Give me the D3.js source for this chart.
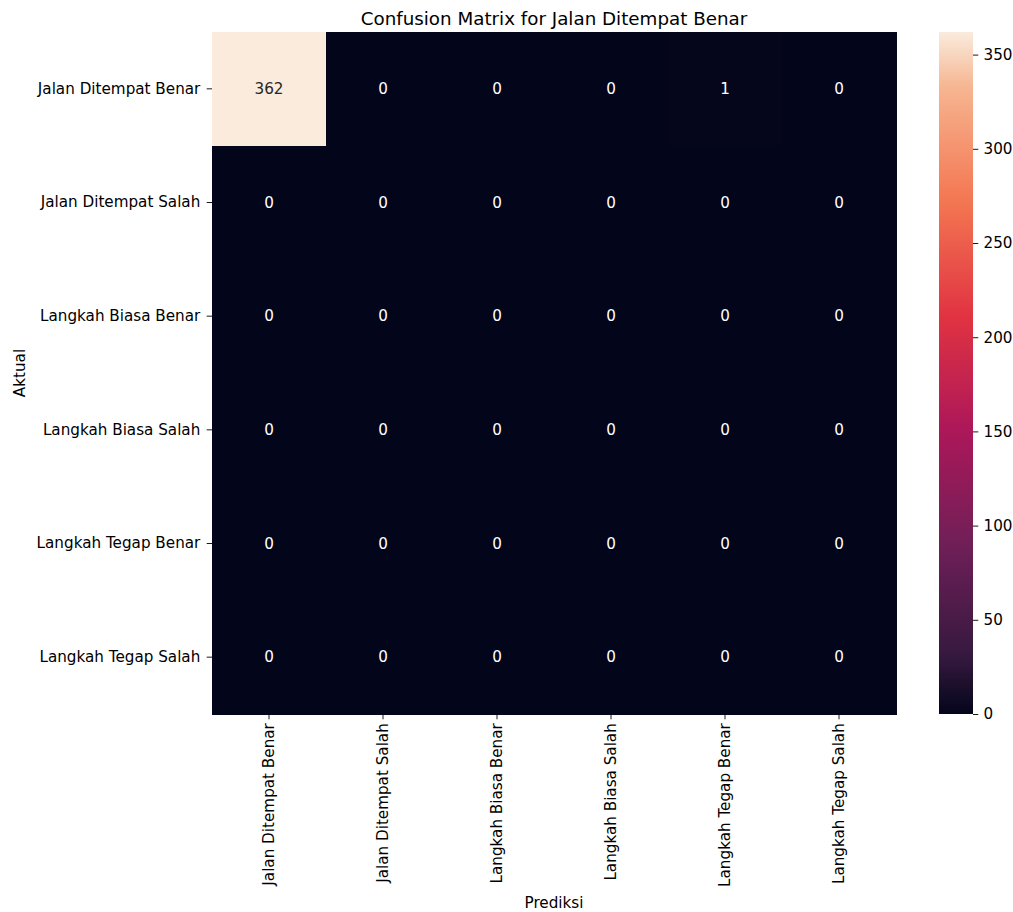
<!DOCTYPE html>
<html><head><meta charset="utf-8">
<script src="https://cdn.jsdelivr.net/npm/d3@7"></script>
<style>body{margin:0;background:#fff;} text{font-family:"DejaVu Sans",sans-serif;}</style>
</head><body>
<svg id="c" width="1013" height="912"></svg>
<script>
const labels = ["Jalan Ditempat Benar","Jalan Ditempat Salah","Langkah Biasa Benar","Langkah Biasa Salah","Langkah Tegap Benar","Langkah Tegap Salah"];
const matrix = [
  [362,0,0,0,1,0],
  [0,0,0,0,0,0],
  [0,0,0,0,0,0],
  [0,0,0,0,0,0],
  [0,0,0,0,0,0],
  [0,0,0,0,0,0]
];
const colorbarTicks = [0,50,100,150,200,250,300,350];
const title = "Confusion Matrix for Jalan Ditempat Benar";
const xTitle = "Prediksi";
const yTitle = "Aktual";
const rocketPos = [0, 1/12, 3/12, 5/12, 7/12, 9/12, 11/12, 1];
const rocketCols = ["#03051a","#35193e","#701f57","#ad1759","#e13342","#f37651","#f6b48f","#faebdd"];

const FS = "15.2px", TFS = "18.3px", TL = 5.3, TP = 3.9;
const svg = d3.select("#c");
const L = 212, R = 896, T = 32, B = 714;
const vmax = d3.max(matrix.flat());
const rocket = d3.scaleLinear().domain(rocketPos).range(rocketCols).interpolate(d3.interpolateRgb);
const color = v => rocket(v / vmax);

const x = d3.scaleBand().domain(labels).range([L, R]);
const y = d3.scaleBand().domain(labels).range([T, B]);

const cells = [];
matrix.forEach((row, i) => row.forEach((v, j) => cells.push({r: labels[i], c: labels[j], v})));

svg.append("g").attr("shape-rendering","crispEdges").selectAll("rect").data(cells).join("rect")
  .attr("x", d => x(d.c)).attr("y", d => y(d.r))
  .attr("width", x.bandwidth() + 1).attr("height", y.bandwidth() + 1)
  .attr("fill", d => color(d.v));
svg.append("g").attr("shape-rendering","crispEdges").selectAll("rect").data(cells.filter(d => d.v > 0)).join("rect")
  .attr("x", d => x(d.c)).attr("y", d => y(d.r))
  .attr("width", x.bandwidth()).attr("height", y.bandwidth())
  .attr("fill", d => color(d.v));

function lum(c){
  const o = d3.rgb(c);
  const f = u => { u/=255; return u <= 0.03928 ? u/12.92 : Math.pow((u+0.055)/1.055, 2.4); };
  return 0.2126*f(o.r)+0.7152*f(o.g)+0.0722*f(o.b);
}
svg.append("g").selectAll("text").data(cells).join("text")
  .attr("x", d => x(d.c) + x.bandwidth()/2).attr("y", d => y(d.r) + y.bandwidth()/2)
  .attr("text-anchor","middle").attr("dominant-baseline","central")
  .attr("font-size", FS)
  .attr("fill", d => lum(color(d.v)) > 0.408 ? "#262626" : "#ffffff")
  .text(d => d.v);

// axes
const xAxis = svg.append("g").attr("transform", `translate(0,${B})`)
  .call(d3.axisBottom(x).tickSize(TL).tickPadding(TP));
xAxis.select(".domain").remove();
xAxis.selectAll("line").attr("stroke","#000").attr("stroke-width",0.9);
xAxis.selectAll("text").attr("font-size",FS).attr("fill","#000")
  .attr("font-family","DejaVu Sans")
  .attr("transform","rotate(-90)").attr("text-anchor","end")
  .attr("x", -(TL+TP)).attr("y", 0).attr("dy","0.35em");

const yAxis = svg.append("g").attr("transform", `translate(${L},0)`)
  .call(d3.axisLeft(y).tickSize(TL).tickPadding(6.4));
yAxis.select(".domain").remove();
yAxis.selectAll("line").attr("stroke","#000").attr("stroke-width",0.9);
yAxis.selectAll("text").attr("font-size",FS).attr("fill","#000").attr("font-family","DejaVu Sans");

// titles
svg.append("text").attr("x", (L+R)/2).attr("y", 25).attr("text-anchor","middle")
  .attr("font-size",TFS).attr("fill","#000").text(title);
svg.append("text").attr("x", (L+R)/2).attr("y", 908).attr("text-anchor","middle")
  .attr("font-size",FS).attr("fill","#000").text(xTitle);
svg.append("text").attr("transform", `translate(25,${(T+B)/2}) rotate(-90)`).attr("text-anchor","middle")
  .attr("font-size",FS).attr("fill","#000").text(yTitle);

// colorbar
const CL = 939, CR = 973;
const cy = d3.scaleLinear().domain([0, vmax]).range([B, T]);
const defs = svg.append("defs");
const grad = defs.append("linearGradient").attr("id","cb").attr("x1",0).attr("y1",1).attr("x2",0).attr("y2",0);
d3.range(0, 1.0001, 0.02).forEach(t => grad.append("stop").attr("offset", t).attr("stop-color", rocket(t)));
svg.append("rect").attr("x", CL).attr("y", T).attr("width", CR-CL).attr("height", B-T).attr("fill","url(#cb)");
const cAxis = svg.append("g").attr("transform", `translate(${CR},0)`)
  .call(d3.axisRight(cy).tickValues(colorbarTicks).tickSize(TL).tickPadding(5.2).tickFormat(d3.format("d")));
cAxis.select(".domain").remove();
cAxis.selectAll("line").attr("stroke","#000").attr("stroke-width",0.9);
cAxis.selectAll("text").attr("font-size",FS).attr("fill","#000").attr("font-family","DejaVu Sans");
</script>
</body></html>
